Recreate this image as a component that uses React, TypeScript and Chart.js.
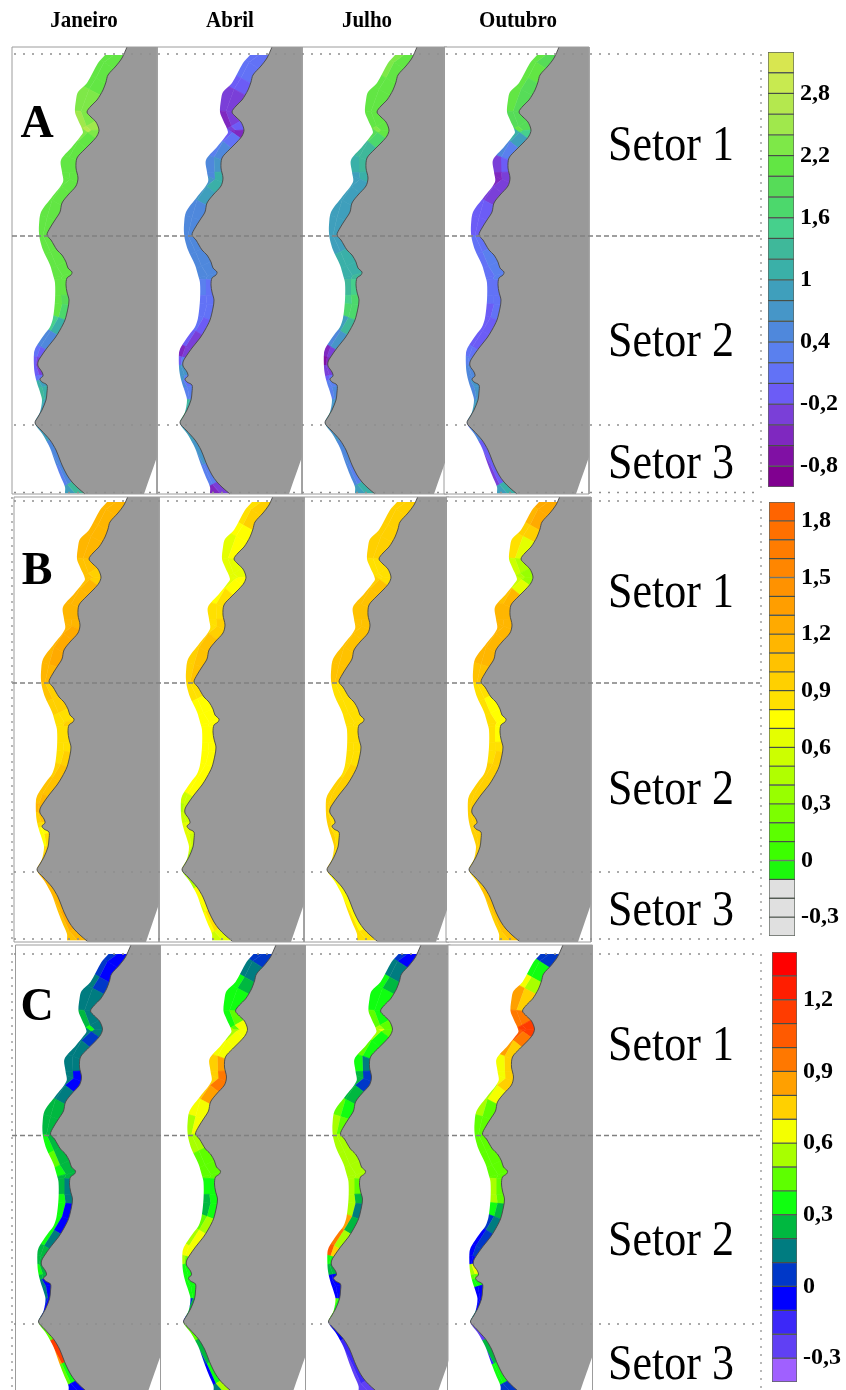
import React, { useEffect, useRef } from "react";
import { Chart, registerables } from "chart.js";

Chart.register(...registerables);

const months = ["Janeiro", "Abril", "Julho", "Outubro"];
const rows = ["A", "B", "C"];
const sectors = ["Setor 1", "Setor 2", "Setor 3"];

// Coast slabs in map units: along-shore position, shoreline and offshore limit at each slab boundary
const alongShore = [55,68,83,95,112,122,130,138,148,160,172,182,192,205,220,235,248,262,273,280,295,305,320,335,350,358,365,375,380,386,400,412,423,440,463,482,493];
const shoreline = [123,113,105,100,87,94,99,95,86,77,77,77,69,61,55,47,58,65,72,67,67,69,65,57,46,40,38,43,40,47,47,41,35,50,62,72,85];
const offshore = [105,95,87,78,75,79,83,80,70,61,62,63,54,43,39,39,43,48,53,55,55,55,52,44,35,34,34,36,37,38,42,38,35,43,55,63,65];

// Detailed shore outline and offshore outline in map units
const coastX = [122,116,108,106,103,97,91,87,91,96,99,97,92,84,77,76,78,76,68,62,60,55,50,47,51,57,62,66,68,72,71,67,66,67,69,68,65,60,55,47,40,38,38,42,43,40,42,47,47,46,42,38,35,41,50,56,60,62,67,72,78,85];
const coastY = [58,66,75,82,90,100,106,112,117,122,130,136,142,150,158,168,178,186,195,203,212,220,228,235,240,250,255,262,268,272,275,278,285,292,300,308,320,330,338,348,358,362,366,372,376,379,382,385,392,400,410,417,423,430,440,450,460,465,475,482,488,494];
const seaX = [105,98,87,78,76,75,78,83,80,72,61,62,63,52,41,39,39,40,43,50,53,55,55,53,50,44,36,34,34,35,37,40,42,40,35,43,50,55,60,65,65];
const seaY = [55,63,83,92,100,112,120,132,137,147,160,172,182,197,212,225,233,240,250,265,275,283,300,318,327,335,347,353,367,375,383,392,400,412,423,435,448,462,475,487,493];

// Colour scale bins, top to bottom
const scaleA = ["#d8e650","#c8ea50","#b4e84e","#a0e84c","#7ee848","#62e644","#56dc58","#4cd86c","#46d08c","#3fb89a","#3ab0a8","#3f9fbc","#4696c8","#4f88dc","#5a80ee","#6272f6","#6c5cf6","#7a3fd8","#7f28c0","#8010a4","#800090"];
const scaleB = ["#ff6400","#ff7000","#ff7c00","#ff8600","#ff9200","#ff9e00","#ffaa00","#ffb600","#ffc200","#ffd000","#ffe000","#ffff00","#e4ff00","#ccff00","#b0ff00","#98ff00","#7cff00","#5cff00","#3cff00","#1cf80c","#e0e0e0","#e0e0e0","#e0e0e0"];
const scaleC = ["#ff0000","#ff1e00","#ff3c00","#ff5a00","#ff7800","#ffa000","#ffd000","#f4ff00","#a8ff00","#5eff00","#10ff10","#00b840","#007c80","#0038c8","#0000ff","#3c28f8","#6040f4","#a060ff"];
const ticksA = [2.8, 2.2, 1.6, 1, 0.4, -0.2, -0.8];
const ticksB = [1.8, 1.5, 1.2, 0.9, 0.6, 0.3, 0, -0.3];
const ticksC = [1.2, 0.9, 0.6, 0.3, 0, -0.3];

// Values per coast slab: [offshore half, shore half]
const aJaneiro = [[2.2,2.2,2.2,2.3,2.6,2.7,2.7,2.3,2.2,2.2,2.2,2.2,2.1,2.1,2.1,2.1,2.1,2.1,2.1,2.1,2.1,2.1,1.5,0.6,0.1,-0.1,0.0,0.2,1.2,1.3,1.2,1.0,0.9,0.5,0.4,0.9],
  [2.1,2.1,2.2,2.3,2.4,2.6,2.4,2.2,2.2,2.1,2.1,2.1,2.1,2.1,2.1,2.1,2.1,2.1,2.1,2.1,2.0,1.8,1.2,0.5,0.0,-0.2,-0.3,0.2,0.9,1.1,1.0,1.0,0.9,0.6,0.5,1.3]];
const aAbril = [[0.1,0.1,-0.1,-0.3,-0.4,-0.3,-0.4,0.0,0.4,0.5,0.5,0.8,0.7,0.6,0.6,0.5,0.5,0.5,0.5,0.4,0.2,0.1,0.1,-0.1,-0.4,-0.1,0.8,0.7,0.5,0.4,1.3,1.6,1.0,0.6,0.4,-0.5],
  [0.1,0.1,0.0,-0.2,-0.3,-0.1,-0.5,0.1,0.5,0.8,1.1,1.1,0.9,0.6,0.5,0.5,0.5,0.5,0.5,0.2,0.1,0.2,0.0,-0.2,-0.3,0.3,0.8,0.3,0.2,0.4,1.2,1.5,1.0,0.7,0.3,-0.3]];
const aJulho = [[2.3,2.3,2.2,2.2,2.2,2.4,2.4,2.0,1.4,1.2,1.0,1.0,0.9,0.9,0.9,1.0,1.1,1.1,1.2,1.3,1.5,1.7,1.0,0.5,-0.4,-0.6,-0.3,0.0,0.3,0.4,0.7,1.0,0.9,0.5,0.5,1.0],
  [2.2,2.2,2.2,2.2,2.1,2.2,2.1,1.7,1.3,1.3,1.2,1.0,0.9,0.9,0.9,1.0,1.1,1.2,1.4,1.5,1.7,1.8,1.4,0.7,-0.3,-0.5,-0.2,0.1,0.3,0.5,0.8,1.2,0.8,0.6,0.4,1.2]];
const aOutubro = [[2.1,2.1,2.1,2.1,2.0,2.1,2.0,1.2,0.5,-0.2,-0.4,-0.4,-0.2,-0.1,0.0,0.1,0.2,0.2,0.2,0.1,0.1,0.0,0.0,-0.1,0.1,0.4,0.5,0.6,0.6,0.6,0.8,0.8,0.2,-0.2,-0.3,0.9],
  [2.0,2.1,2.0,2.0,2.0,1.9,1.6,0.9,0.3,-0.1,-0.3,-0.3,-0.2,0.0,0.0,0.2,0.3,0.3,0.3,0.2,0.1,0.1,-0.1,-0.1,0.2,0.4,0.5,0.6,0.7,0.7,0.9,0.9,0.5,0.0,-0.1,1.2]];
const bJaneiro = [[1.2,1.15,1.15,1.15,1.1,1.05,1.05,1.1,1.15,1.15,1.15,1.15,1.2,1.2,1.2,1.1,1.0,0.9,0.9,0.85,0.85,0.9,1.0,1.05,1.1,1.15,1.0,0.9,0.8,0.8,0.9,1.0,1.05,1.1,1.1,1.1],
  [1.2,1.2,1.2,1.15,1.05,1.0,1.0,1.15,1.2,1.2,1.2,1.25,1.25,1.25,1.2,1.0,0.95,0.9,0.95,0.9,0.85,0.95,1.05,1.1,1.15,1.2,1.1,0.85,0.8,0.85,1.0,1.1,1.15,1.2,1.25,1.2]];
const bAbril = [[0.85,0.85,0.75,0.7,0.65,0.65,0.65,0.7,0.8,0.85,0.85,0.9,0.95,1.0,1.0,0.85,0.8,0.8,0.8,0.8,0.78,0.78,0.78,0.75,0.55,0.5,0.6,0.7,0.7,0.7,0.65,0.55,0.35,0.7,0.75,0.55],
  [0.95,0.95,0.8,0.75,0.7,0.7,0.75,0.75,0.85,0.9,0.95,1.0,1.05,1.05,1.05,0.85,0.75,0.75,0.75,0.75,0.75,0.8,0.8,0.8,0.6,0.55,0.55,0.65,0.65,0.6,0.5,0.45,0.45,0.75,0.85,0.65]];
const bJulho = [[0.95,0.95,0.95,0.95,0.9,0.9,0.9,1.0,1.05,1.05,1.05,1.05,1.05,1.05,1.05,0.9,0.85,0.85,0.85,0.85,0.85,0.85,0.9,0.95,0.95,0.95,0.95,0.95,0.95,0.95,0.95,0.95,0.85,0.85,0.85,0.85],
  [1.0,1.0,1.0,0.95,0.9,0.85,0.85,1.05,1.1,1.1,1.1,1.1,1.1,1.1,1.05,0.85,0.82,0.82,0.82,0.82,0.82,0.85,0.95,1.0,1.0,1.0,0.9,0.9,0.9,0.9,0.9,0.9,0.8,0.8,0.8,0.85]];
const bOutubro = [[1.25,1.2,1.0,0.85,0.55,0.45,0.45,0.55,1.1,1.15,1.15,1.15,1.15,1.15,1.05,0.9,0.85,0.85,0.85,0.85,0.85,0.9,0.95,0.95,0.95,0.95,0.95,0.95,0.95,0.95,0.95,0.9,0.9,0.95,1.0,1.0],
  [1.3,1.25,0.95,0.7,0.45,0.4,0.4,0.7,1.15,1.2,1.2,1.2,1.2,1.2,1.05,0.85,0.8,0.8,0.8,0.8,0.85,0.95,0.95,1.0,1.0,1.0,1.0,1.0,1.0,1.0,1.0,0.9,0.95,1.05,1.1,1.05]];
const cJaneiro = [[0.05,0.05,0.15,0.15,0.3,0.4,0.35,0.2,0.15,0.15,0.15,0.15,0.18,0.25,0.3,0.4,0.45,0.35,0.25,0.3,0.35,0.35,0.35,0.35,0.3,0.3,0.35,0.3,0.2,0.15,0.05,0.15,0.5,0.9,0.5,0.0],
  [-0.05,-0.05,0.05,0.15,0.15,0.15,0.15,0.05,0.15,0.15,0.0,-0.05,0.15,0.25,0.25,0.3,0.3,0.25,0.25,0.15,0.12,0.0,-0.05,0.15,0.3,0.25,0.3,0.25,0.0,-0.05,0.0,0.05,0.45,1.2,0.4,-0.05]];
const cAbril = [[0.05,0.2,0.35,0.35,0.4,0.5,0.55,0.6,0.65,0.75,0.75,0.8,0.8,0.65,0.6,0.55,0.5,0.5,0.5,0.35,0.25,0.25,0.5,0.6,0.65,0.55,0.35,0.35,0.4,0.4,0.1,0.0,0.5,0.1,-0.05,0.2],
  [0.05,0.2,0.3,0.35,0.45,0.65,0.7,0.65,0.7,0.9,0.95,0.95,0.9,0.7,0.65,0.55,0.45,0.45,0.45,0.35,0.35,0.35,0.55,0.65,0.65,0.5,0.35,0.35,0.35,0.35,0.3,0.3,0.5,0.3,0.35,0.55]];
const cJulho = [[0.05,0.15,0.35,0.4,0.5,0.6,0.7,0.55,0.45,0.35,0.3,0.25,0.3,0.45,0.55,0.6,0.6,0.6,0.6,0.6,0.6,0.6,0.85,1.0,1.05,0.4,0.3,0.0,-0.05,-0.05,0.45,0.45,-0.05,-0.2,-0.25,-0.25],
  [-0.05,0.2,0.3,0.35,0.4,0.5,0.5,0.4,0.35,0.2,0.1,0.05,0.3,0.4,0.5,0.55,0.55,0.55,0.55,0.5,0.3,0.2,0.3,0.6,0.8,0.4,0.3,-0.05,-0.05,-0.05,0.4,0.5,-0.05,-0.15,-0.15,-0.25]];
const cOutubro = [[0.05,0.4,0.7,0.85,1.0,1.15,1.2,1.1,0.85,0.7,0.7,0.65,0.6,0.55,0.45,0.45,0.45,0.45,0.5,0.55,0.55,0.4,0.05,-0.05,-0.05,-0.05,0.6,0.5,0.4,-0.05,-0.05,0.15,-0.25,-0.15,0.4,0.05],
  [0.1,0.35,0.6,0.8,0.95,1.15,1.2,0.95,0.8,0.75,0.8,0.75,0.65,0.5,0.45,0.45,0.45,0.45,0.45,0.45,0.45,0.3,0.15,0.1,0.1,-0.05,0.65,0.5,0.35,-0.05,-0.05,0.15,-0.25,0.3,0.35,0.05]];

const panelValues = [
  [aJaneiro, aAbril, aJulho, aOutubro],
  [bJaneiro, bAbril, bJulho, bOutubro],
  [cJaneiro, cAbril, cJulho, cOutubro],
];
const bars = [
  { colors: scaleA, top: 3.2, step: 0.2, ticks: ticksA, x: 768, y0: 52, y1: 487, w: 26 },
  { colors: scaleB, top: 1.9, step: 0.1, ticks: ticksB, x: 769, y0: 502, y1: 936, w: 26 },
  { colors: scaleC, top: 1.4, step: 0.1, ticks: ticksC, x: 772, y0: 952, y1: 1382, w: 25 },
];

// Layout
const colShift = [0, 145, 290, 432];
const rowDx = [0, 2, 3.5];
const rowDy = [0, 447, 899];
const rowTop = [47, 50, 46];
const rowBottom = [494, 495, 494];
const SERIF = '"Liberation Serif", "Times New Roman", serif';
const BLEED = 8;
const SMOOTH = 0.3;

function colorOf(v: number, b: typeof bars[number]) {
  const i = Math.floor((b.top - v) / b.step + 1e-6);
  return b.colors[Math.max(0, Math.min(b.colors.length - 1, i))];
}

type Pt = { x: number; y: number };
function poly(pts: Pt[], bg: string, tension = 0, stroke = bg, sw = 0.7) {
  return {
    data: pts, showLine: true, fill: "shape" as const, backgroundColor: bg, borderColor: stroke,
    borderWidth: sw, pointRadius: 0, tension,
  };
}
function line(pts: Pt[], color: string, width: number, dash: number[] = [], tension = 0) {
  return {
    data: pts, showLine: true, fill: false, borderColor: color, borderWidth: width,
    borderDash: dash, pointRadius: 0, tension,
  };
}

// slant of the slab boundary at station i, so that slabs run across the shore; flat at both ends
function slantOf(i: number) {
  if (i === 0 || i === alongShore.length - 1) return 0;
  const a = i - 1, b = i + 1;
  const dy = alongShore[b] - alongShore[a];
  const dx = (shoreline[b] - shoreline[a] + offshore[b] - offshore[a]) / 2;
  return Math.max(-0.8, Math.min(0.8, -dx / dy));
}

function buildDatasets() {
  const paint: any[] = [];
  rows.forEach((_, r) => {
    months.forEach((_m, c) => {
      const ox = colShift[c] + rowDx[r];
      const oy = rowDy[r];
      const P = (x: number, y: number) => ({ x: x + ox, y: y + oy });
      const sharp = (x: number, y: number) => [P(x, y), P(x, y)];
      const top = rowTop[r], bot = rowBottom[r];
      const coastTopX = 127 - (top - 47) * 0.45;
      const [off, shore] = panelValues[r][c];
      const edge = (i: number, x: number) => P(x, alongShore[i] + (x - shoreline[i]) * slantOf(i));
      for (let i = 0; i < alongShore.length - 1; i++) {
        const L0 = offshore[i] - BLEED, L1 = offshore[i + 1] - BLEED;
        const R0 = shoreline[i] + BLEED, R1 = shoreline[i + 1] + BLEED;
        const M0 = (offshore[i] + shoreline[i]) / 2, M1 = (offshore[i + 1] + shoreline[i + 1]) / 2;
        paint.push(poly([edge(i, L0), edge(i, M0), edge(i + 1, M1), edge(i + 1, L1)], colorOf(off[i], bars[r])));
        paint.push(poly([edge(i, M0), edge(i, R0), edge(i + 1, R1), edge(i + 1, M1)], colorOf(shore[i], bars[r])));
      }
      // white sea over the offshore bleed
      const sea: Pt[] = [...sharp(13, top), ...sharp(coastTopX, top), ...sharp(123, 55)];
      seaX.forEach((x, i) => {
        const first = i === 0 || i === seaX.length - 1;
        if (first) sea.push(...sharp(x, seaY[i])); else sea.push(P(x, seaY[i]));
      });
      sea.push(...sharp(65, bot), ...sharp(13, bot), P(13, top));
      paint.push(poly(sea, "#ffffff", SMOOTH, "#ffffff", 0));
      // grey land over the shore bleed
      const land: Pt[] = [...sharp(coastTopX, top), ...sharp(157, top), ...sharp(157, 457), ...sharp(144, bot), ...sharp(85, bot)];
      for (let i = coastX.length - 1; i >= 0; i--) if (coastY[i] > top + 2 && coastY[i] < bot) land.push(P(coastX[i], coastY[i]));
      land.push(...sharp(coastTopX, top));
      paint.push(poly(land, "#999999", SMOOTH, "#999999", 0));
      const coast = coastX.map((x, i) => P(x, coastY[i])).filter((p) => p.y > top + oy + 2);
      paint.push(line([P(coastTopX, top), ...coast], "#474747", 0.9, [], SMOOTH));
      paint.push(line([P(12, top), P(157, top), P(157, bot), P(12, bot), P(12, top)], "#9c9c9c", 1));
    });
  });
  const hline = (y: number, x0: number, x1: number, dash: number[], col: string) =>
    paint.push(line([{ x: x0, y }, { x: x1, y }], col, 1.4, dash));
  [54, 425, 492.5, 501, 872, 939, 954, 1324].forEach((y) => hline(y, 14, 760, [2, 7], "#8e8e8e"));
  [236, 683, 1135.5].forEach((y) => hline(y, 12, 760, [5, 3], "#808080"));
  [[54, 492], [501, 939], [954, 1390]].forEach(([a, b]) =>
    paint.push(line([{ x: 761, y: a }, { x: 761, y: b }], "#9a9a9a", 1.4, [2, 6])));
  paint.push(line([{ x: 12, y: 497 }, { x: 12, y: 1390 }], "#9a9a9a", 1.4, [2, 6]));
  return paint.reverse();
}

const textPlugin = {
  id: "pageText",
  afterDraw(chart: any) {
    const ctx = chart.ctx;
    const put = (t: string, x: number, y: number, font: string, align: CanvasTextAlign, sy = 1) => {
      ctx.save();
      ctx.translate(x, y);
      ctx.scale(1, sy);
      ctx.font = font;
      ctx.fillStyle = "#000";
      ctx.textAlign = align;
      ctx.textBaseline = "middle";
      ctx.fillText(t, 0, 0);
      ctx.restore();
    };
    const headerX = [84, 230, 367, 518];
    months.forEach((m, i) => put(m, headerX[i], 21, `bold 21px ${SERIF}`, "center", 1.1));
    const rowY = [125, 572, 1008];
    rows.forEach((r, i) => put(r, 37, rowY[i], `bold 46px ${SERIF}`, "center"));
    const setorY = [[147, 343, 465], [594, 791, 912], [1047, 1242, 1366]];
    setorY.forEach((ys) => ys.forEach((y, i) => put(sectors[i], 608, y, `44px ${SERIF}`, "left", 1.15)));
  },
};

function MapChart() {
  const ref = useRef<HTMLCanvasElement>(null);
  useEffect(() => {
    const chart = new Chart(ref.current!, {
      type: "scatter",
      data: { datasets: buildDatasets() },
      options: {
        animation: false, responsive: false, events: [],
        layout: { padding: 0 },
        plugins: { legend: { display: false }, tooltip: { enabled: false } },
        scales: {
          x: { type: "linear", min: 0, max: 846, display: false },
          y: { type: "linear", min: 0, max: 1390, reverse: true, display: false },
        },
      },
      plugins: [textPlugin],
    } as any);
    return () => chart.destroy();
  }, []);
  return <canvas ref={ref} width={846} height={1390} style={{ position: "absolute", left: 0, top: 0, display: "block" }} />;
}

function ColorBar({ bar }: { bar: typeof bars[number] }) {
  const ref = useRef<HTMLCanvasElement>(null);
  const pad = 30;
  const width = 846 - bar.x;
  useEffect(() => {
    const n = bar.colors.length;
    const chart = new Chart(ref.current!, {
      type: "bar",
      data: {
        labels: [""],
        datasets: bar.colors.map((c, i) => ({
          data: [[bar.top - (i + 1) * bar.step, bar.top - i * bar.step]],
          backgroundColor: c, borderColor: "rgba(40,50,40,0.75)", borderWidth: 1, borderSkipped: false,
          barPercentage: 1, categoryPercentage: 1, grouped: false,
        })),
      },
      options: {
        animation: false, responsive: false, events: [],
        layout: { padding: { top: pad, bottom: pad, left: 0, right: 0 } },
        plugins: { legend: { display: false }, tooltip: { enabled: false } },
        scales: {
          x: { display: false },
          y: {
            position: "right", min: bar.top - n * bar.step, max: bar.top,
            grid: { display: false, drawTicks: false }, border: { display: false },
            afterFit: (s: any) => { s.width = width - bar.w; },
            afterBuildTicks: (s: any) => { s.ticks = bar.ticks.map((value) => ({ value })); },
            ticks: {
              autoSkip: false, padding: 6, color: "#000", maxRotation: 0,
              font: { family: SERIF, size: 24, weight: "bold" },
              callback: (v: any) => String(v).replace(".", ","),
            },
          },
        },
      },
    } as any);
    return () => chart.destroy();
  }, []);
  return (
    <canvas ref={ref} width={width} height={bar.y1 - bar.y0 + 2 * pad}
      style={{ position: "absolute", left: bar.x, top: bar.y0 - pad, display: "block" }} />
  );
}

export default function App() {
  return (
    <div style={{ position: "absolute", left: 0, top: 0, width: 846, height: 1390, overflow: "hidden", background: "#fff" }}>
      <MapChart />
      {bars.map((b, i) => <ColorBar key={i} bar={b} />)}
    </div>
  );
}
